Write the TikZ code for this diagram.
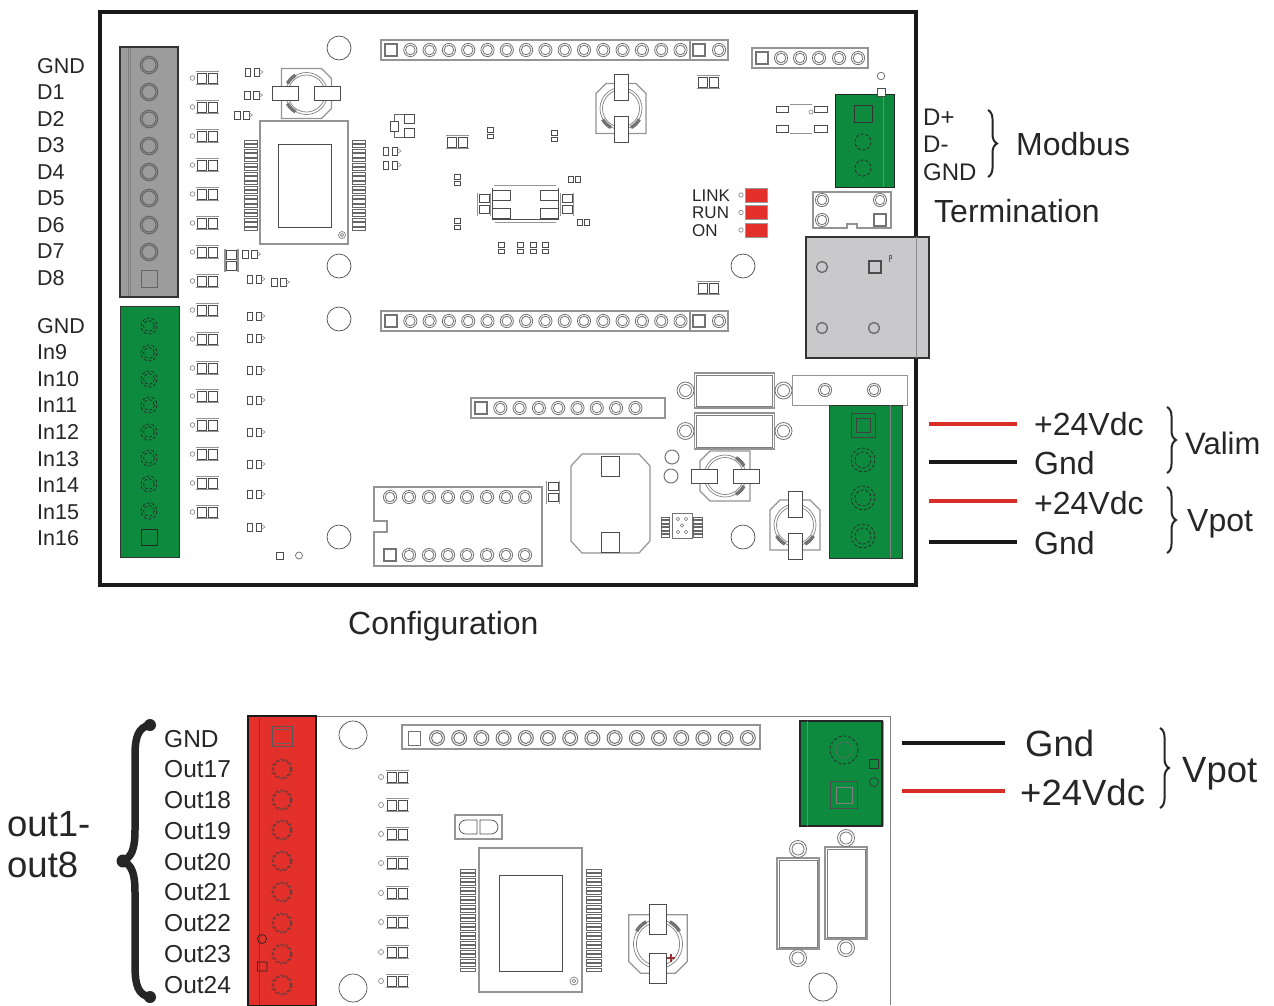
\documentclass[tikz,border=0pt]{standalone}
\usepackage{fontspec}
\usepackage{xcolor}
\usepackage{tikz}
\usetikzlibrary{arrows.meta, decorations.pathreplacing}
\setmainfont{Liberation Sans}
\definecolor{termgreen}{HTML}{0E8A3E}
\definecolor{termred}{HTML}{E4302A}
\definecolor{termgray}{HTML}{9C9C9C}
\definecolor{shieldgray}{HTML}{C9C9CB}
\definecolor{inkgray}{HTML}{262626}

\begin{document}
\begin{tikzpicture}[x=1pt, y=-1pt,
frameline/.style={draw=black!90, line width=3.6pt},
wall/.style={draw=black!42, line width=1.5pt},
edge/.style={draw=black!70, line width=0.7pt},
pinring/.style={draw=black!55, line width=0.8pt},
termring/.style={draw=black!60, line width=1pt},
dashring/.style={draw=black!85, line width=0.7pt, densely dashed},
redwire/.style={draw=termred!95!black, line width=3.2pt, shorten >=17pt},
blackwire/.style={draw=black!90, line width=3.2pt, shorten >=17pt},
tinybrace/.style={draw=inkgray, line width=2pt, decorate, decoration={brace, amplitude=9pt}},
pinlabel/.style={anchor=base west, inner sep=0pt, text=inkgray, font=\fontsize{21.5}{24}\selectfont},
outlabel/.style={anchor=base west, inner sep=0pt, text=inkgray, font=\fontsize{24.5}{27}\selectfont},
ledlabel/.style={anchor=base west, inner sep=0pt, text=inkgray, font=\fontsize{17}{19}\selectfont},
biglabel/.style={anchor=base west, inner sep=0pt, text=inkgray, font=\fontsize{32}{35}\selectfont},
hugelabel/.style={anchor=base west, inner sep=0pt, text=inkgray, font=\fontsize{36.5}{40}\selectfont},
pics/smdbare/.style={code={
	\draw[wall] (-11.5,-6.5) -- (11.5,-6.5) (-11.5,6.5) -- (11.5,6.5);
	\draw[edge] (-9.5,-5) rectangle (-1,5) (1.5,-5) rectangle (10,5);
}},
pics/smd/.style={code={
	\pic {smdbare};
	\draw[edge, draw=black!45] (-14.5,0) circle (2.3);
}},
pics/minipair/.style={code={
	\draw[edge] (-9,-4) rectangle (-3.5,4) (0,-4) rectangle (5.5,4);
	\draw[edge, draw=black!40] (5.5,-2.5) -- (9,0) -- (5.5,2.5);
}},
pics/padv/.style={code={
	\draw[edge] (-3,-5.5) rectangle (3,-1) (-3,1) rectangle (3,5.5);
}},
pics/hpin/.style={code={
	\draw[pinring] (0,0) circle (6.6) (0,0) circle (4.8);
}},
pics/hsq/.style={code={
	\draw[pinring, line width=1.1pt] (-6,-6) rectangle (6,6);
}},
pics/capa/.style={code={
	\draw[wall, line width=1.2pt] (-25,-25) -- (15,-25) -- (25,-15) -- (25,15) -- (15,25) -- (-25,25) -- cycle;
	\draw[edge, draw=black!50, fill=white] (0,0) circle (21) (0,0) circle (18.5);
	\draw[draw=black!55, line width=3.5pt] (-19,-10) arc (208:240:21) (-19,10) arc (152:120:21);
	\draw[edge, fill=white] (-34,-7) rectangle (-8,7) (8,-7) rectangle (34,7);
}},
pics/ringcap/.style 2 args={code={
	\draw[wall, line width=1.1pt] (-#1,-#2) rectangle (#1,#2);
	\draw[edge, draw=black!50] (-#1+2,-#2+2) rectangle (#1-2,#2-2);
	\draw[edge, draw=black!55, line width=0.8pt] (-#1-9,0) circle (8.5) (-#1-9,0) circle (6) (#1+9,0) circle (8.5) (#1+9,0) circle (6);
}}
]
	\useasboundingbox (0,0) rectangle (1274,1005);

	% upper board
	\draw[frameline] (100,12) rectangle (916,585);
	\draw[draw=black!80, line width=2pt, fill=termgray] (120,47) rectangle (178,297);
	\draw[draw=black!50, line width=0.7pt] (128,48) -- (128,296) (130.5,48) -- (130.5,296);
	\foreach \py in {65,92,119,146,172,198,225,252}
		\draw[termring] (149,\py) circle (8.8) (149,\py) circle (7);
	\draw[termring] (141,270) rectangle (157,287);

	\draw[draw=black!80, line width=1pt, fill=termgreen] (120,306) rectangle (179,557);
	\foreach \py in {326,353,379,405,432,458,484,511}
		\draw[dashring] (149,\py) circle (8) (149,\py) circle (5.5);
	\draw[draw=black!85, line width=1pt] (141,529) rectangle (157,545);

	% leds on the left side
	\foreach \py in {78,107,136,165,194,223,252,281,310,339,368,396,425,454,483,512}
		\pic at (207,\py) {smd};
	\foreach \px/\py in {254/72,253.5/95,243.5/115,392/151,392/165,251.5/254,256/279,280.5/282,256/316,256/338,256/370,256/400,256/432,256/464,256/494,256/527}
		\pic at (\px,\py) {minipair};
	\pic[rotate=90] at (231.5,260.5) {smdbare};

	% main chip
	\foreach \py in {140,144.6,...,228}
		\draw[edge, draw=black!60] (244,\py) rectangle (257,\py+3.2) (352,\py) rectangle (365,\py+3.2);
	\draw[wall, line width=2pt] (260,121) rectangle (348,244);
	\draw[edge] (278,144) rectangle (331,227);
	\draw[edge, draw=black!50] (342,235) circle (3.5) (342,235) circle (1.6);

	\pic at (306.5,93.5) {capa};
	\pic[rotate=90] at (621,108.5) {capa};
	\pic[rotate=180] at (725,476) {capa};
	\pic[rotate=90] at (795,525) {capa};

	% mounting holes
	\foreach \px/\py in {339/48,339/266,339/319,743/266,339/537,743/537}
		\draw[draw=black!70, line width=0.7pt] (\px,\py) circle (12);

	% long headers
	\foreach \hy in {50,321} {
		\draw[wall] (381,\hy-10) rectangle (690,\hy+10);
		\draw[wall] (690,\hy-10) rectangle (728,\hy+10);
		\pic at (391,\hy) {hsq};
		\foreach \i in {1,...,15}
			\pic at (391+19.3*\i,\hy) {hpin};
		\pic at (699,\hy) {hsq};
		\pic at (719,\hy) {hpin};
	}
	\draw[wall] (752,48) rectangle (868,68);
	\pic at (762,58) {hsq};
	\foreach \px in {781,800,819,839,858}
		\pic at (\px,58) {hpin};
	\draw[wall] (471,398) rectangle (665,418);
	\pic at (481,408) {hsq};
	\foreach \i in {1,...,8}
		\pic at (481+19.3*\i,408) {hpin};

	% middle parts
	\pic at (708,82) {smdbare};
	\pic at (708,288) {smdbare};
	\pic at (457,142) {smdbare};
	\foreach \px/\py in {490/133,554/136,457/180,457/224,501/248,520/248,533/248,545/248}
		\pic at (\px,\py) {padv};
	\draw[edge] (568,176) rectangle (573,182) (575,176) rectangle (580,182)
		(577,219) rectangle (582,225) (584,219) rectangle (589,225);

	\draw[edge, draw=black!60] (394,114) -- (409,114) -- (409,119) (394,114) -- (394,137) -- (409,137);
	\draw[edge, fill=white] (404,114) rectangle (414,123) (404,128) rectangle (414,137) (390,121) rectangle (398,131);

	\draw[wall, line width=1pt] (494,185) -- (556,185) (495,222) -- (556,222);
	\draw[edge] (492,190) rectangle (510,200) (492,208) rectangle (510,218) (540,190) rectangle (558,200) (540,208) rectangle (558,218);
	\draw[edge] (492,188) -- (492,219) -- (558,219) -- (558,188);
	\pic[rotate=90] at (484,204) {smdbare};
	\pic[rotate=90] at (567,204) {smdbare};

	% status leds
	\foreach \py in {195,212.5,230} {
		\draw[draw=black!40, line width=0.8pt, fill=termred] (745,\py-7) rectangle (767,\py+7);
		\draw[edge, draw=black!45] (741,\py) circle (2.2);
	}
	\node[ledlabel] (link) at (692,201) {LINK};
	\node[ledlabel] (run) at (692,218.5) {RUN};
	\node[ledlabel] (on) at (692,236) {ON};

	% modbus corner
	\draw[edge] (776,106) rectangle (788,112) (814,106) rectangle (827,112) (776,125) rectangle (788,132) (814,125) rectangle (827,132);
	\draw[wall, line width=1pt] (790,104) -- (812,104) (790,133) -- (812,133);
	\draw[edge, draw=black!45] (811,112) circle (2);
	\draw[draw=black!85, line width=1pt, fill=termgreen] (835,94) rectangle (894,187);
	\draw[draw=black!50, line width=0.6pt] (883,94) -- (883,187);
	\draw[draw=black!80, line width=0.9pt] (854,105) rectangle (872,122);
	\draw[dashring] (863,142) circle (8) (863,168) circle (8);
	\draw[edge, draw=black!60] (881,76) circle (3.8);
	\draw[edge, fill=white] (877,88) rectangle (885,96);
	\draw[wall] (813,192) -- (891,192) -- (891,228) -- (857,228) -- (857,224) -- (847,224) -- (847,228) -- (813,228) -- cycle;
	\pic at (822,200) {hpin};
	\pic at (880,200) {hpin};
	\pic at (822,220) {hpin};
	\pic at (880,220) {hsq};

	\draw[draw=black!80, line width=1.3pt, fill=shieldgray] (806,237) rectangle (929,358);
	\draw[draw=black!45, line width=0.8pt] (916,237) -- (916,358);
	\draw[termring, line width=1.3pt] (822,267) circle (5.5) (822,328) circle (5.5) (874,328) circle (5.5);
	\draw[draw=black!70, line width=1.4pt] (869,261) rectangle (881,273);
	\draw[draw=black!60, line width=0.8pt] (889,255) rectangle (891,258) (889.5,259) -- (889.5,262);

	% lower parts
	\draw[wall] (374,487) -- (542,487) -- (542,566) -- (374,566) -- (374,532) -- (387,532) -- (387,521) -- (374,521) -- cycle;
	\foreach \px in {390,409,429,448,467,487,506,525}
		\pic at (\px,497) {hpin};
	\pic at (390,555) {hsq};
	\foreach \px in {409,429,448,467,487,506,525}
		\pic at (\px,555) {hpin};
	\pic[rotate=90] at (553,492) {smdbare};

	\draw[wall, line width=1.2pt] (582,454) -- (639,454) -- (650,466) -- (650,541) -- (639,553) -- (582,553) -- (571,541) -- (571,466) -- cycle;
	\draw[edge] (601,456) rectangle (619,476) (601,532) rectangle (619,552);
	\draw[termring, draw=black!55] (672,457) circle (7) (671,476) circle (7);

	\pic at (734.5,390.5) {ringcap={40}{17.5}};
	\pic at (734.5,431) {ringcap={40}{18}};
	\draw[wall, line width=1pt] (792,375) rectangle (907,405);
	\pic at (825,390) {hpin};
	\pic at (874,390) {hpin};

	\draw[edge, draw=black!55] (672,513) rectangle (692,538);
	\foreach \px/\py in {678/519,686/519,682/525.5,678/532,686/532}
		\draw[edge, draw=black!55, line width=0.5pt] (\px,\py) circle (1.7);
	\foreach \py in {517,520.5,...,535}
		\draw[edge, draw=black!60, line width=0.5pt] (661,\py) rectangle (669,\py+2.4) (693,\py) rectangle (702,\py+2.4);
	\draw[edge] (276,552) rectangle (283,559);
	\draw[edge, draw=black!60] (299,555.5) circle (3.5);

	\draw[draw=black!80, line width=1pt, fill=termgreen] (829,405) rectangle (902,558);
	\draw[draw=black!50, line width=0.6pt] (890,405) -- (890,558);
	\draw[draw=black!75, line width=0.6pt] (851,413) rectangle (875,437) (856,418) rectangle (870,432);
	\foreach \py in {460,498,536}
		\draw[dashring] (863,\py) circle (12) (863,\py) circle (8);

	\node[pinlabel] (gnda) at (37,73) {GND};
	\foreach \t [count=\i] in {D1,D2,D3,D4,D5,D6,D7,D8}
		\node[pinlabel] (d\i) at (37,73+26.5*\i) {\t};
	\node[pinlabel] (gndb) at (37,333) {GND};
	\foreach \t [count=\i] in {In9,In10,In11,In12,In13,In14,In15,In16}
		\node[pinlabel] (in\i) at (37,333+26.6*\i) {\t};

	\node[pinlabel, font=\fontsize{24}{26}\selectfont] (dplus) at (923,125) {D+};
	\node[pinlabel, font=\fontsize{24}{26}\selectfont] (dminus) at (923,152) {D-};
	\node[pinlabel, font=\fontsize{24}{26}\selectfont] (gndc) at (923,180) {GND};
	\draw[tinybrace] (988,110) -- (988,177);
	\node[biglabel] (modbus) at (1016,155) {Modbus};
	\node[biglabel] (termination) at (934,222) {Termination};
	\node[biglabel] (configuration) at (348,634) {Configuration};

	\coordinate (wa) at (929,424);
	\coordinate (wb) at (929,462);
	\coordinate (wc) at (929,501);
	\coordinate (wd) at (929,542);
	\node[biglabel] (vdca) at (1034,435) {+24Vdc};
	\node[biglabel] (gnde) at (1034,474) {Gnd};
	\node[biglabel] (vdcb) at (1034,514) {+24Vdc};
	\node[biglabel] (gndf) at (1034,554) {Gnd};
	\draw[redwire] (wa) -- (wa -| vdca.west);
	\draw[blackwire] (wb) -- (wb -| gnde.west);
	\draw[redwire] (wc) -- (wc -| vdcb.west);
	\draw[blackwire] (wd) -- (wd -| gndf.west);
	\draw[tinybrace] (1167,407) -- (1167,473);
	\draw[tinybrace] (1167,487) -- (1167,553);
	\node[biglabel, font=\fontsize{31}{34}\selectfont] (valim) at (1185,454) {Valim};
	\node[biglabel] (vpota) at (1187,531) {Vpot};

	% lower board
	\draw[draw=black!50, line width=1pt] (316,716) -- (890,716) -- (890,1005);
	\draw[draw=black!90, line width=1.5pt, fill=termred] (248,716) rectangle (316,1006);
	\draw[draw=black!70, line width=0.6pt] (259,716) -- (259,1005);
	\draw[draw=black!65, line width=0.8pt] (272,726) rectangle (292,746);
	\draw[draw=black!60, line width=0.7pt] (275,729) rectangle (289,743);
	\foreach \py in {769,800,830,861,892,923,954,985}
		\draw[dashring, draw=black!75] (282,\py) circle (10) (282,\py) circle (8.5);
	\draw[draw=black!85, line width=0.7pt] (262,939) circle (4.5) (257.5,962) rectangle (267,971);

	\draw[edge, draw=black!70] (353,735) circle (14) (353,988) circle (14) (823,987) circle (14);
	\draw[wall] (402,725) rectangle (760,749);
	\draw[pinring, line width=1pt] (408,731) rectangle (420,745);
	\foreach \i in {0,...,14}
		\draw[pinring, line width=1pt] (437+22.2*\i,738) circle (7.5) (437+22.2*\i,738) circle (5.5);

	\foreach \py in {777,805,834,863,893,922,952,981}
		\pic[scale=1.1] at (397,\py) {smd};

	\draw[wall] (455,815) rectangle (502,839);
	\draw[edge] (477,820) -- (466,820) arc (-90:-270:7) -- (477,834) -- cycle (480,820) -- (491,820) arc (-90:90:7) -- (480,834) -- cycle;

	\foreach \py in {869,873.5,...,969}
		\draw[edge, draw=black!60] (460,\py) rectangle (475,\py+3.2) (586,\py) rectangle (601,\py+3.2);
	\draw[wall] (479,848) rectangle (582,992);
	\draw[edge] (499,875) rectangle (562,971);
	\draw[edge, draw=black!50] (574,981) circle (4) (574,981) circle (1.8);

	\pic[rotate=-90, scale=1.17] at (658,944) {capa};
	\draw[draw=red!50!black!80, line width=1.6pt] (667,958) -- (675,958) (671,954) -- (671,962);

	\draw[draw=black!85, line width=1.4pt, fill=termgreen] (800,721) rectangle (882,826);
	\draw[draw=black!40, line width=1.5pt] (883.5,721) -- (883.5,826);
	\draw[draw=black!50, line width=0.6pt] (807,721) -- (807,826);
	\draw[dashring] (844,750) circle (14);
	\draw[draw=black!60, line width=0.6pt] (844,750) circle (8);
	\draw[draw=black!70, line width=0.7pt] (830.5,781.5) rectangle (857.5,808.5);
	\draw[draw=black!50, line width=0.7pt] (836.5,787) rectangle (852,803);
	\draw[draw=black!80, line width=0.6pt] (869.5,759.5) rectangle (878.5,768.5) (874,782) circle (4.5);

	\pic[rotate=90] at (798,903.5) {ringcap={45.5}{21}};
	\pic[rotate=90] at (846,893) {ringcap={46}{21}};

	\foreach \t [count=\i from 0] in {GND,Out17,Out18,Out19,Out20,Out21,Out22,Out23,Out24}
		\node[outlabel] (out\i) at (164,747+30.75*\i) {\t};
	\draw[draw=inkgray, line width=7.5pt, line cap=round, line join=round] (150,725) .. controls (138,727) and (135,738) .. (135,755)
		-- (135,830) .. controls (135,848) and (132,858) .. (122,861)
		.. controls (132,864) and (135,874) .. (135,892)
		-- (135,965) .. controls (135,985) and (138,995) .. (150,997);
	\fill[inkgray] (150,725) circle (6) (150,997) circle (6) (123,861) circle (6.5);
	\node[hugelabel] (outa) at (7,836) {out1-};
	\node[hugelabel] (outb) at (7,877) {out8};

	\coordinate (we) at (902,743);
	\coordinate (wf) at (902,791);
	\node[hugelabel] (gndg) at (1025,756) {Gnd};
	\node[hugelabel] (vdcc) at (1020,805) {+24Vdc};
	\draw[blackwire, shorten >=20pt] (we) -- (we -| gndg.west);
	\draw[redwire, shorten >=15pt] (wf) -- (wf -| vdcc.west);
	\draw[tinybrace] (1160,728) -- (1160,808);
	\node[hugelabel] (vpotb) at (1182,782) {Vpot};
\end{tikzpicture}
\end{document}
